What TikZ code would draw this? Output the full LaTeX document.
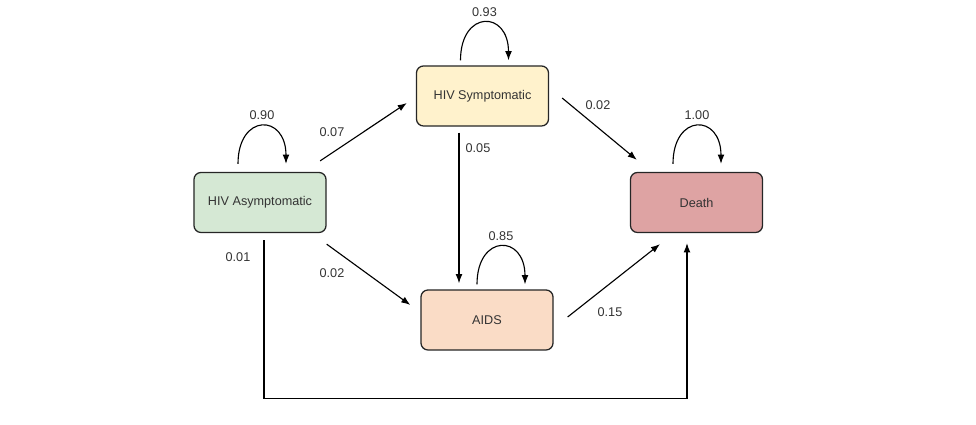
\documentclass[tikz,border=0pt]{standalone}
\usepackage{fontspec}
\setmainfont{Liberation Sans}
\usetikzlibrary{arrows.meta,positioning,calc}
\definecolor{asymgreen}{HTML}{D5E8D4}
\definecolor{sympyellow}{HTML}{FFF2CC}
\definecolor{aidsorange}{HTML}{FADCC6}
\definecolor{deathred}{HTML}{DEA3A3}

\begin{document}
\begin{tikzpicture}[x=0.025cm, y=-0.025cm, font=\fontsize{9}{11}\selectfont]
    % Define styles
    \tikzstyle{state} = [rectangle, draw=black!85, line width=0.9pt, rounded corners=5pt,
        minimum width=3.3cm, minimum height=1.5cm, text=black!80]
    \tikzstyle{prob} = [text=black!80, inner sep=1pt]
    \tikzstyle{arrow} = [line width=0.8pt, -{Latex[length=6.5pt,width=4.8pt]}]
    \tikzstyle{selfloop} = [arrow, out=90, in=90, looseness=2.7]

    \useasboundingbox (0,0) rectangle (976,425);

    % Nodes
    \node [state, fill=asymgreen] (asym) at (260,202.5) {HIV Asymptomatic};
    \node [state, fill=sympyellow] (symp) at (482.5,96) {HIV Symptomatic};
    \node [state, fill=aidsorange] (aids) at (487,320) {AIDS};
    \node [state, fill=deathred] (death) at (696.5,202.5) {Death};

    % Self loops
    \draw [selfloop] ($(asym.north)+(-22,-8)$) to node [prob, above=3pt] (p11) {0.90} ($(asym.north)+(26,-8)$);
    \draw [selfloop] ($(symp.north)+(-22,-5)$) to node [prob, above=3pt] (p22) {0.93} ($(symp.north)+(26,-5)$);
    \draw [selfloop] ($(aids.north)+(-10,-5)$) to node [prob, above=3pt] (p33) {0.85} ($(aids.north)+(38,-5)$);
    \draw [selfloop] ($(death.north)+(-23.5,-8)$) to node [prob, above=3pt] (p44) {1.00} ($(death.north)+(24.5,-8)$);

    % Arrows
    \draw [arrow] ($(asym.north east)+(-6.5,-11)$) -- ($(symp.west)+(-9,7)$);
    \draw [arrow] ($(asym.south east)+(0,11)$) -- ($(aids.west)+(-10,-15)$);
    \draw [arrow] ($(symp.south)+(-23.5,6)$) -- ($(aids.north)+(-28,-6)$);
    \draw [arrow] ($(symp.east)+(13,2)$) -- ($(death.north west)+(7,-12)$);
    \draw [arrow] ($(aids.east)+(14,-3)$) -- ($(death.south)+(-36.5,11)$);
    \draw [arrow] ($(asym.south)+(4,7)$) -- ++(0,158) -| ($(death.south)+(-9.5,10)$);

    % Labels
    \node [prob] (p12) at (332,132) {0.07};
    \node [prob] (p13) at (332,273) {0.02};
    \node [prob] (p23) at (478,148) {0.05};
    \node [prob] (p24) at (598,105) {0.02};
    \node [prob] (p34) at (610,312) {0.15};
    \node [prob] (p14) at (238,257) {0.01};

\end{tikzpicture}
\end{document}
